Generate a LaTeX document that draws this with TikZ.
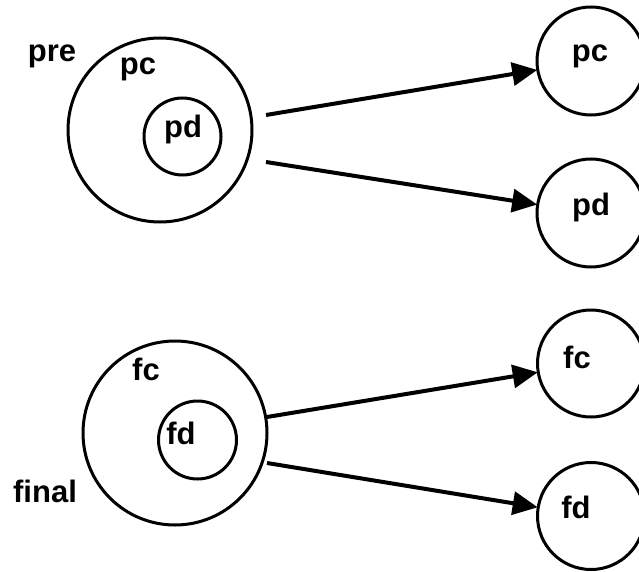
\documentclass[tikz,border=0pt]{standalone}
\usepackage{fontspec}
\setmainfont{Liberation Sans}
\usetikzlibrary{arrows.meta}
\begin{document}
\begin{tikzpicture}[x=1pt,y=-1pt,
  ring/.style={draw=black,line width=3pt,circle,inner sep=0pt},
  lbl/.style={inner sep=0pt,font=\fontsize{31}{36}\selectfont\bfseries},
  arr/.style={line width=4pt,-{Triangle[length=25pt,width=23pt]},shorten >=-1pt}]
\useasboundingbox (0,0) rectangle (639,572);
% top left
\node[ring,minimum size=184pt] (pcbig) at (160,130) {};
\node[ring,minimum size=77pt] (pdin) at (182.5,136.5) {};
\node[lbl] (pre) at (52,56) {pre};
\node[lbl] (pclbl) at (138,69) {pc};
\node[lbl] (pdlbl) at (183,129) {pd};
% bottom left
\node[ring,minimum size=184pt] (fcbig) at (175,433) {};
\node[ring,minimum size=78pt] (fdin) at (197.5,440) {};
\node[lbl] (fclbl) at (146,369) {fc};
\node[lbl] (fdlbl) at (181,433) {fd};
\node[lbl] (final) at (45,491) {final};
% right
\node[ring,minimum size=108pt] (rpc) at (591,61) {};
\node[ring,minimum size=108pt] (rpd) at (591,213) {};
\node[ring,minimum size=107pt] (rfc) at (591,363.5) {};
\node[ring,minimum size=107pt] (rfd) at (591,516) {};
\node[lbl] (rpclbl) at (590,56) {pc};
\node[lbl] (rpdlbl) at (591,207) {pd};
\node[lbl] (rfclbl) at (577,357) {fc};
\node[lbl] (rfdlbl) at (576,507) {fd};
% arrows
\coordinate (s1) at (266,115);
\coordinate (s2) at (266,162);
\coordinate (s3) at (267,417);
\coordinate (s4) at (267,463);
\draw[arr] (s1) -- (rpc);
\draw[arr] (s2) -- (rpd);
\draw[arr] (s3) -- (rfc);
\draw[arr] (s4) -- (rfd);
\end{tikzpicture}
\end{document}
